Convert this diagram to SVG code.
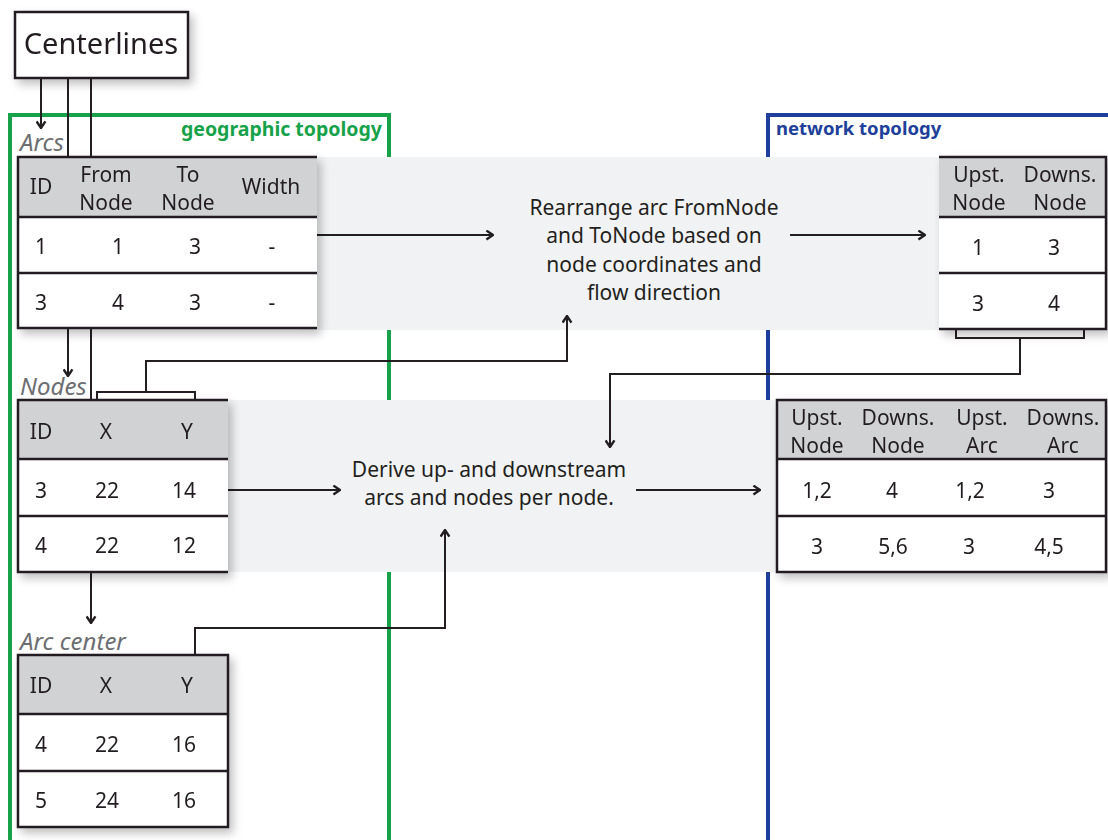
<svg xmlns="http://www.w3.org/2000/svg" width="1108" height="840" viewBox="0 0 1108 840">
  <defs>
    <filter id="shadow" x="-20%" y="-20%" width="150%" height="150%">
      <feGaussianBlur in="SourceAlpha" stdDeviation="5"/>
      <feOffset dx="4" dy="5" result="b"/>
      <feComponentTransfer><feFuncA type="linear" slope="0.25"/></feComponentTransfer>
      <feMerge><feMergeNode/><feMergeNode in="SourceGraphic"/></feMerge>
    </filter>
    <marker id="arrow" viewBox="0 0 10 10" refX="9" refY="5" markerWidth="11" markerHeight="11" markerUnits="userSpaceOnUse" orient="auto">
      <path d="M3,1 L9,5 L3,9" fill="none" stroke="#231f20" stroke-width="2.2"/>
    </marker>
    <style>
      text { font-family: "Noto Sans", "Open Sans", sans-serif; fill: #231f20; }
      .t { font-size: 21px; text-anchor: middle; }
      .lbl { font-size: 24px; font-style: italic; fill: #6d6e71; }
      .proc { font-size: 21px; text-anchor: middle; }
      .hdr { fill: #d1d2d4; }
      .cell { fill: #ffffff; }
      .frame { fill: none; stroke: #231f20; stroke-width: 2.5; }
      .rule { stroke: #231f20; stroke-width: 2.5; }
      .wire { fill: none; stroke: #231f20; stroke-width: 2; }
      .band { fill: #f1f2f3; }
    </style>
  </defs>

  <rect width="1108" height="840" fill="#ffffff"/>

  <!-- topology frames -->
  <g id="geographic-frame">
    <rect x="10" y="115" width="379" height="740" fill="none" stroke="#17a24a" stroke-width="4"/>
    <text x="382" y="136" font-size="19.5" font-weight="bold" text-anchor="end" style="fill:#17a24a">geographic topology</text>
  </g>
  <g id="network-frame">
    <rect x="768" y="115" width="360" height="740" fill="none" stroke="#203f9a" stroke-width="4"/>
    <text x="776" y="135" font-size="18.5" font-weight="bold" style="fill:#203f9a">network topology</text>
  </g>

  <!-- process bands -->
  <rect class="band" x="300" y="157" width="650" height="173"/>
  <rect class="band" x="220" y="400" width="570" height="172"/>

  <!-- connectors -->
  <g id="connectors">
    <path class="wire" d="M41,78 V128" marker-end="url(#arrow)"/>
    <path class="wire" d="M68,78 V376" marker-end="url(#arrow)"/>
    <path class="wire" d="M91,78 V400"/>
    <path class="wire" d="M91,572 V623" marker-end="url(#arrow)"/>
    <path class="wire" d="M317,235 H493" marker-end="url(#arrow)"/>
    <path class="wire" d="M790,235 H925" marker-end="url(#arrow)"/>
    <path class="wire" d="M97,400 V392 H195 V400 M146,392 V361 H567 V316" marker-end="url(#arrow)"/>
    <path class="wire" d="M956,329 V338 H1084 V329 M1020,338 V374 H610 V447" marker-end="url(#arrow)"/>
    <path class="wire" d="M228,490 H340" marker-end="url(#arrow)"/>
    <path class="wire" d="M636,490 H760" marker-end="url(#arrow)"/>
    <path class="wire" d="M195,655 V628 H445 V530" marker-end="url(#arrow)"/>
  </g>

  <!-- source -->
  <g id="centerlines" filter="url(#shadow)">
    <rect x="15" y="12" width="173" height="66" fill="#ffffff" stroke="#231f20" stroke-width="2.5"/>
    <text x="101" y="54" font-size="29" text-anchor="middle">Centerlines</text>
  </g>

  <!-- Arcs table -->
  <text class="lbl" x="20" y="151">Arcs</text>
  <g id="arcs" filter="url(#shadow)">
    <rect class="cell" x="18" y="157" width="299" height="171"/>
    <rect class="hdr" x="18" y="157" width="299" height="60"/>
    <line class="rule" x1="18" y1="217" x2="317" y2="217"/>
    <line class="rule" x1="18" y1="273" x2="317" y2="273"/>
    <path class="frame" d="M317,157 H18 V328 H317"/>
    <text class="t" x="41" y="194">ID</text>
    <text class="t" x="106" y="182">From</text>
    <text class="t" x="106" y="210">Node</text>
    <text class="t" x="188" y="182">To</text>
    <text class="t" x="188" y="210">Node</text>
    <text class="t" x="271" y="194">Width</text>
    <text class="t" x="41" y="254">1</text>
    <text class="t" x="118" y="254">1</text>
    <text class="t" x="195" y="254">3</text>
    <text class="t" x="272" y="254">-</text>
    <text class="t" x="41" y="310">3</text>
    <text class="t" x="118" y="310">4</text>
    <text class="t" x="195" y="310">3</text>
    <text class="t" x="272" y="310">-</text>
  </g>

  <!-- rearrange step -->
  <g id="rearrange">
    <text class="proc" x="654" y="215">Rearrange arc FromNode</text>
    <text class="proc" x="654" y="243">and ToNode based on</text>
    <text class="proc" x="654" y="272">node coordinates and</text>
    <text class="proc" x="654" y="300">flow direction</text>
  </g>

  <!-- oriented arcs -->
  <g id="arc-direction" filter="url(#shadow)">
    <rect class="cell" x="939" y="157" width="167" height="172"/>
    <rect class="hdr" x="939" y="157" width="167" height="60"/>
    <line class="rule" x1="939" y1="217" x2="1106" y2="217"/>
    <line class="rule" x1="939" y1="273" x2="1106" y2="273"/>
    <path class="frame" d="M939,157 H1106 V329 H939"/>
    <text class="t" x="979" y="182">Upst.</text>
    <text class="t" x="979" y="210">Node</text>
    <text class="t" x="1060" y="182">Downs.</text>
    <text class="t" x="1060" y="210">Node</text>
    <text class="t" x="978" y="255">1</text>
    <text class="t" x="1054" y="255">3</text>
    <text class="t" x="978" y="311">3</text>
    <text class="t" x="1054" y="311">4</text>
  </g>

  <!-- Nodes table -->
  <text class="lbl" x="20" y="395">Nodes</text>
  <g id="nodes" filter="url(#shadow)">
    <rect class="cell" x="18" y="400" width="210" height="172"/>
    <rect class="hdr" x="18" y="400" width="210" height="59"/>
    <line class="rule" x1="18" y1="459" x2="228" y2="459"/>
    <line class="rule" x1="18" y1="516" x2="228" y2="516"/>
    <path class="frame" d="M228,400 H18 V572 H228"/>
    <text class="t" x="41" y="439">ID</text>
    <text class="t" x="106" y="439">X</text>
    <text class="t" x="187" y="439">Y</text>
    <text class="t" x="41" y="498">3</text>
    <text class="t" x="107" y="498">22</text>
    <text class="t" x="184" y="498">14</text>
    <text class="t" x="41" y="553">4</text>
    <text class="t" x="107" y="553">22</text>
    <text class="t" x="184" y="553">12</text>
  </g>

  <!-- derive step -->
  <g id="derive">
    <text class="proc" x="489" y="477">Derive up- and downstream</text>
    <text class="proc" x="489" y="505">arcs and nodes per node.</text>
  </g>

  <!-- node connectivity -->
  <g id="node-links" filter="url(#shadow)">
    <rect class="cell" x="777" y="400" width="329" height="172"/>
    <rect class="hdr" x="777" y="400" width="329" height="59"/>
    <line class="rule" x1="777" y1="459" x2="1106" y2="459"/>
    <line class="rule" x1="777" y1="516" x2="1106" y2="516"/>
    <rect class="frame" x="777" y="400" width="329" height="172"/>
    <text class="t" x="817" y="425">Upst.</text>
    <text class="t" x="817" y="453">Node</text>
    <text class="t" x="898" y="425">Downs.</text>
    <text class="t" x="898" y="453">Node</text>
    <text class="t" x="982" y="425">Upst.</text>
    <text class="t" x="982" y="453">Arc</text>
    <text class="t" x="1063" y="425">Downs.</text>
    <text class="t" x="1063" y="453">Arc</text>
    <text class="t" x="817" y="498">1,2</text>
    <text class="t" x="892" y="498">4</text>
    <text class="t" x="970" y="498">1,2</text>
    <text class="t" x="1049" y="498">3</text>
    <text class="t" x="817" y="554">3</text>
    <text class="t" x="893" y="554">5,6</text>
    <text class="t" x="969" y="554">3</text>
    <text class="t" x="1049" y="554">4,5</text>
  </g>

  <!-- Arc center table -->
  <text class="lbl" x="20" y="650">Arc center</text>
  <g id="arc-center" filter="url(#shadow)">
    <rect class="cell" x="18" y="655" width="210" height="172"/>
    <rect class="hdr" x="18" y="655" width="210" height="59"/>
    <line class="rule" x1="18" y1="714" x2="228" y2="714"/>
    <line class="rule" x1="18" y1="771" x2="228" y2="771"/>
    <rect class="frame" x="18" y="655" width="210" height="172"/>
    <text class="t" x="41" y="693">ID</text>
    <text class="t" x="106" y="693">X</text>
    <text class="t" x="187" y="693">Y</text>
    <text class="t" x="41" y="752">4</text>
    <text class="t" x="107" y="752">22</text>
    <text class="t" x="184" y="752">16</text>
    <text class="t" x="41" y="808">5</text>
    <text class="t" x="107" y="808">24</text>
    <text class="t" x="184" y="808">16</text>
  </g>
</svg>
